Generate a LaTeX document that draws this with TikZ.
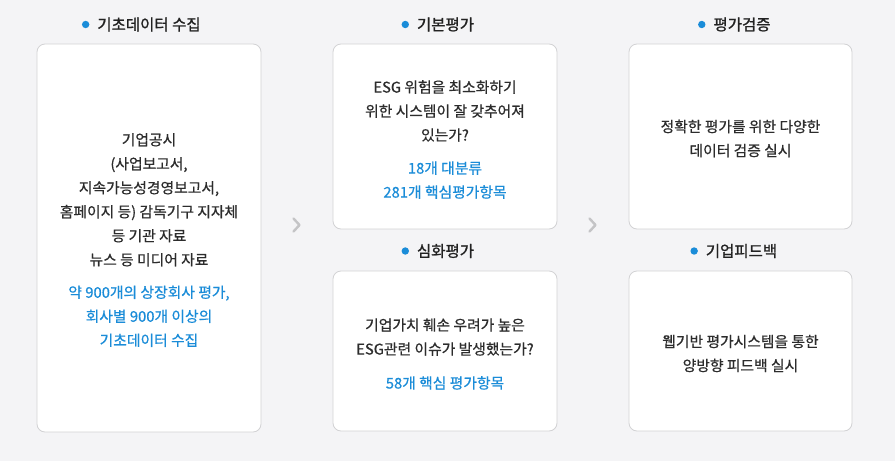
\documentclass[tikz,border=0pt]{standalone}
\usepackage{fontspec}
\setmainfont{Noto Sans CJK KR}
\newfontfamily\bodyfont{Noto Sans CJK KR}[FakeBold=0.6]
\newfontfamily\titlefont{Noto Sans CJK KR}[FakeBold=1.2]
\definecolor{bgcol}{HTML}{F4F4F6}
\definecolor{boxline}{HTML}{D2D2D4}
\definecolor{txtdark}{HTML}{2C2C2C}
\definecolor{ttldark}{HTML}{222222}
\definecolor{accent}{HTML}{1A8CD8}
\definecolor{chev}{HTML}{C4C4C6}
\begin{document}
\begin{tikzpicture}[x=1pt,y=-1pt,
  card/.style={draw=boxline,fill=white,rounded corners=8pt,line width=0.8pt,inner sep=0pt},
  body/.style={align=center,text=txtdark,inner sep=0pt,font=\bodyfont\fontsize{14.8}{24}\selectfont},
  ttl/.style={text=ttldark,inner sep=0pt,font=\titlefont\fontsize{15.5}{18}\selectfont},
  dot/.style={circle,fill=accent,minimum size=7.4pt,inner sep=0pt},
  chevron/.style={draw=chev,line width=2.4pt,line cap=round,line join=round}]
\useasboundingbox (0,0) rectangle (895,461);
\fill[bgcol] (0,0) rectangle (895,461);

% cards
\node[card,minimum width=224pt,minimum height=388pt] (c1) at (149,238) {};
\node[card,minimum width=224pt,minimum height=185pt] (c2) at (445,136.5) {};
\node[card,minimum width=224pt,minimum height=160pt] (c3) at (445,351) {};
\node[card,minimum width=223pt,minimum height=185pt] (c4) at (740.5,136.5) {};
\node[card,minimum width=223pt,minimum height=160pt] (c5) at (740.5,351) {};

% titles
\node[ttl] (t1) at (149,24.5) {기초데이터 수집};
\node[ttl] (t2) at (445.5,24.5) {기본평가};
\node[ttl] (t3) at (445.5,251) {심화평가};
\node[ttl] (t4) at (742,24.5) {평가검증};
\node[ttl] (t5) at (741.5,251) {기업피드백};
\foreach \i in {1,...,5}{\node[dot,xshift=-11.5pt] (d\i) at (t\i.west) {};}

% body texts
\node[body] (b1) at ([yshift=-2pt]c1.center) {기업공시\\(사업보고서,\\지속가능성경영보고서,\\홈페이지 등) 감독기구 지자체\\등 기관 자료\\뉴스 등 미디어 자료\\[8.5pt]
{\color{accent}약 900개의 상장회사 평가,}\\{\color{accent}회사별 900개 이상의}\\{\color{accent}기초데이터 수집}};
\node[body] (b2) at ([yshift=-3pt]c2.center) {ESG 위험을 최소화하기\\위한 시스템이 잘 갖추어져\\있는가?\\[9pt]
{\color{accent}18개 대분류}\\{\color{accent}281개 핵심평가항목}};
\node[body] (b3) at ([yshift=-3pt]c3.center) {기업가치 훼손 우려가 높은\\ESG관련 이슈가 발생했는가?\\[10pt]
{\color{accent}58개 핵심 평가항목}};
\node[body] (b4) at ([yshift=-2pt]c4.center) {정확한 평가를 위한 다양한\\데이터 검증 실시};
\node[body] (b5) at ([yshift=-2.5pt]c5.center) {웹기반 평가시스템을 통한\\양방향 피드백 실시};

% chevrons
\coordinate (k1) at (297,225);
\coordinate (k2) at (593,225);
\draw[chevron] ([shift={(-3.5,-6.5)}]k1) -- ([shift={(2.5,0)}]k1) -- ([shift={(-3.5,6.5)}]k1);
\draw[chevron] ([shift={(-3.5,-6.5)}]k2) -- ([shift={(2.5,0)}]k2) -- ([shift={(-3.5,6.5)}]k2);
\end{tikzpicture}
\end{document}
